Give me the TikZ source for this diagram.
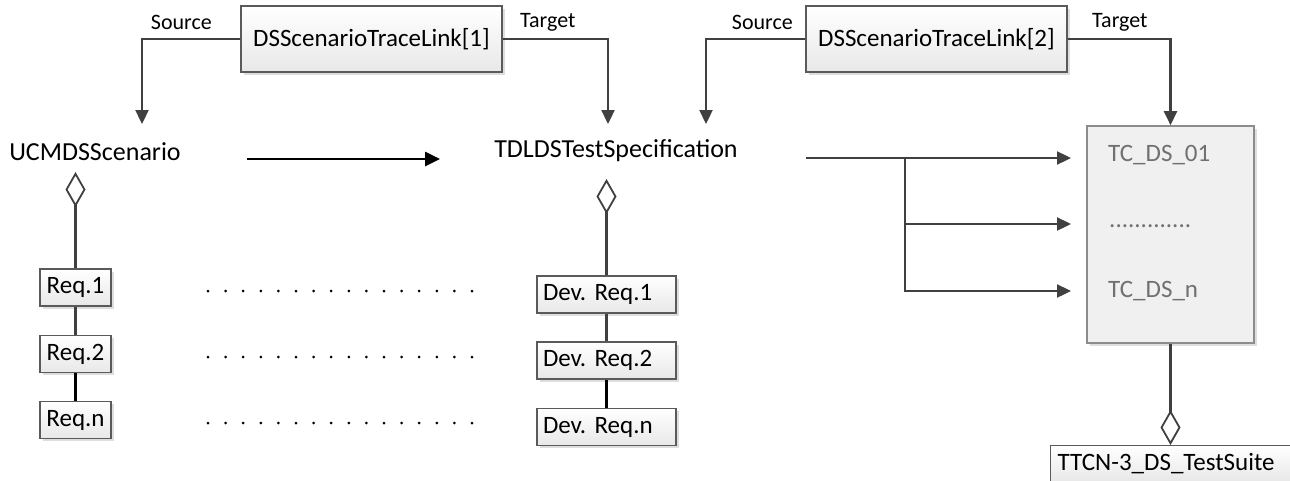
\documentclass[tikz,border=0pt]{standalone}
\usepackage{fontspec}
\setmainfont{Carlito}
\usetikzlibrary{arrows.meta,shadows}
\definecolor{linegray}{HTML}{404040}
\definecolor{boxedge}{HTML}{5A5A5A}
\definecolor{tcgray}{HTML}{707070}
\definecolor{tcfill}{HTML}{F0F0F0}
\definecolor{tcedge}{HTML}{8C8C8C}
\tikzset{aggtip/.tip={Diamond[open, length=35pt, width=20pt, line width=1.8pt]}}
\frenchspacing
\begin{document}
\begin{tikzpicture}[x=1pt,y=-1pt,
  every node/.style={font=\fontsize{25}{30}\selectfont, inner sep=0pt},
  shade/.style={drop shadow={shadow xshift=2.5pt, shadow yshift=-2.5pt, fill=black, opacity=0.13}},
  classbox/.style={draw=boxedge, line width=1.4pt, top color=white, bottom color=black!9, shade},
  suitebox/.style={draw=tcedge, line width=1.6pt, fill=tcfill, shade},
  entry/.style={text=tcgray, anchor=west},
  rolelabel/.style={font=\fontsize{22}{26}\selectfont},
  title/.style={font=\fontsize{26}{30}\selectfont},
  conn/.style={draw=linegray, line width=2.3pt, -{Triangle[length=14pt, width=13pt]}},
  mainflow/.style={draw=black, line width=2.6pt, -{Triangle[length=15pt, width=14pt]}},
  agg/.style={draw=linegray, line width=2.3pt},
  link/.style={draw=linegray, line width=2.3pt},
  dotrow/.style={draw=black, line width=3pt, line cap=round, dash pattern=on 0pt off 17.6pt}
]
\useasboundingbox (0,0) rectangle (1290,480);

% trace link boxes
\node[classbox, minimum width=261pt, minimum height=66pt] (link1) at (371.5,39) {DSScenarioTraceLink[1]};
\node[classbox, minimum width=261pt, minimum height=66pt] (link2) at (936.5,39) {DSScenarioTraceLink[2]};

% role labels
\node[rolelabel, anchor=east] (src1) at (212,22) {Source};
\node[rolelabel, anchor=west] (tgt1) at (520,22) {Target};
\node[rolelabel, anchor=east] (src2) at (793,22) {Source};
\node[rolelabel, anchor=west] (tgt2) at (1092,22) {Target};

% models
\node[title] (ucm) at (95,152) {UCMDSScenario};
\node[title] (tdl) at (616,151) {TDLDSTestSpecification};

% test suite with its test cases
\node[suitebox, minimum width=167pt, minimum height=217pt] (tcbox) at (1170.5,234.5) {};
\node[entry] (tc1) at (1108,155) {TC\_DS\_01};
\node[entry] (tcdots) at (1109,226) {.............};
\node[entry] (tcn) at (1108,291) {TC\_DS\_n};
\node[classbox, anchor=north west, minimum width=245pt, minimum height=36pt,
      text width=231pt, align=left, inner xsep=7pt] (ttcn) at (1050,445) {TTCN-3\_DS\_TestSuite};

% requirements
\node[classbox, minimum width=71pt, minimum height=37pt] (req1) at (75.5,287.5) {Req.1};
\node[classbox, minimum width=71pt, minimum height=37pt] (req2) at (75.5,354) {Req.2};
\node[classbox, minimum width=71pt, minimum height=37pt] (reqn) at (75.5,420) {Req.n};

\node[classbox, text width=127pt, align=left, inner xsep=6pt, minimum height=37pt] (dev1) at (606.5,294.5) {Dev. Req.1};
\node[classbox, text width=127pt, align=left, inner xsep=6pt, minimum height=37pt] (dev2) at (606.5,360.5) {Dev. Req.2};
\node[classbox, text width=127pt, align=left, inner xsep=6pt, minimum height=37pt] (devn) at (606.5,427) {Dev. Req.n};

% connector end points
\coordinate (ucmIn) at (142,124);
\coordinate (tdlInA) at (608,124);
\coordinate (tdlInB) at (706,124);
\coordinate (mapFrom) at (247,159);
\coordinate (mapTo) at (440,159);
\coordinate (hubIn) at (806,158);
\coordinate (fork) at (905,158);
\coordinate (t1) at (1071,158);
\coordinate (t2) at (1071,224);
\coordinate (t3) at (1071,291);
\coordinate (ucmDia) at (75.5,172);
\coordinate (tdlDia) at (606.5,179);

% source / target links
\draw[conn] (link1.west) -| (ucmIn);
\draw[conn] (link1.east) -| (tdlInA);
\draw[conn] (link2.west) -| (tdlInB);
\draw[conn] (link2.east) -| (tcbox.north);

% transformation
\draw[mainflow] (mapFrom) -- (mapTo);

% generated test cases
\draw[conn] (hubIn) -- (t1);
\draw[conn] (fork) |- (t2);
\draw[conn] (fork) |- (t3);

% aggregations
\draw[agg, {aggtip}-] (ucmDia) -- (req1.north);
\draw[agg, {aggtip}-] (tdlDia) -- (dev1.north);
\draw[agg, -{aggtip}] (tcbox.south) -- (tcbox.south |- ttcn.north);

% requirement chains
\draw[link] (req1.south) -- (req2.north);
\draw[link, draw=black, line width=2.6pt] (req2.south) -- (reqn.north);
\draw[link] (dev1.south) -- (dev2.north);
\draw[link, draw=black, line width=2.6pt] (dev2.south) -- (devn.north);

% correspondence between requirements
\draw[dotrow] (208,291) -- (473,291);
\draw[dotrow] (208,357) -- (473,357);
\draw[dotrow] (208,423) -- (473,423);
\end{tikzpicture}
\end{document}
